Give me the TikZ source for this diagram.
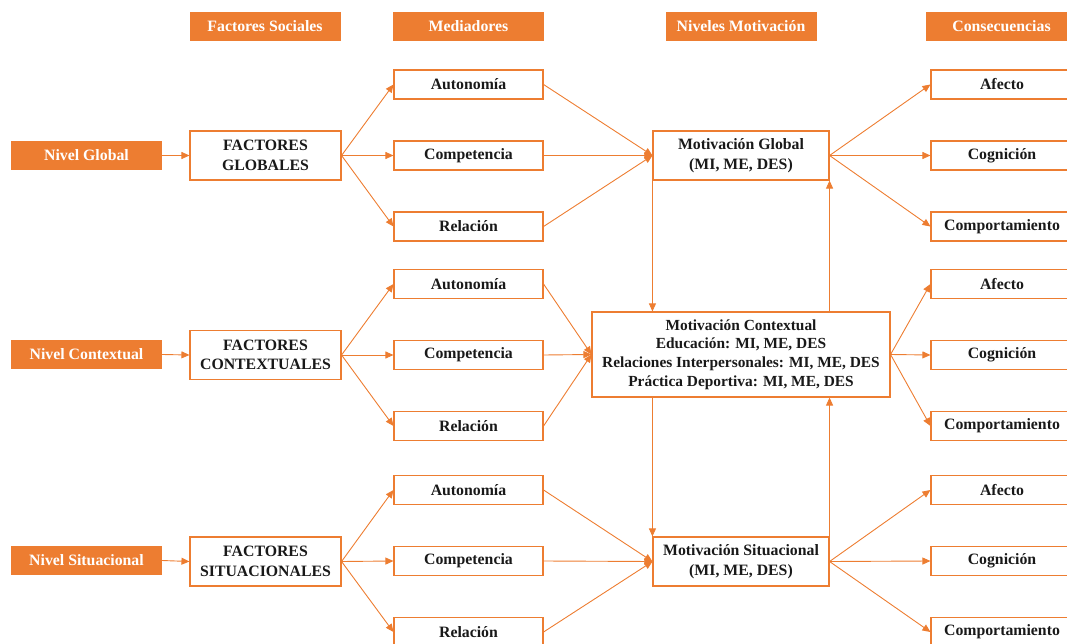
\documentclass[tikz,border=0pt]{standalone}
\usepackage{fontspec}
\setmainfont{Liberation Serif}
\usetikzlibrary{arrows.meta}
\definecolor{naranja}{HTML}{ED7D31}
\begin{document}
\begin{tikzpicture}[x=1pt,y=-1pt,
  txt/.style={font=\bfseries\fontsize{15.8}{19.5}\selectfont},
  head/.style={txt, fill=naranja, text=white, minimum width=151, minimum height=29, inner sep=0},
  box/.style={txt, draw=naranja, line width=1.1pt, fill=white, text=black!90, align=center, inner sep=0},
  small/.style={box, minimum width=149, minimum height=29},
  big/.style={box, minimum width=151, minimum height=49},
  conn/.style={draw=naranja, line width=0.9pt, -{Triangle[length=8pt,width=7pt]}}]
\useasboundingbox (0,0) rectangle (1067,644);
\clip (0,0) rectangle (1067,644);

% column headers
\node[head] (h1) at (265,26.5) {Factores Sociales};
\node[head] (h2) at (468.5,26.5) {Mediadores};
\node[head] (h3) at (741,26.5) {Niveles Motivación};
\node[head] (h4) at (1001.5,26.5) {Consecuencias};

% level labels and social factors
\node[head] (lg) at (86.5,155.5) {Nivel Global};
\node[head] (lc) at (86.5,354.5) {Nivel Contextual};
\node[head] (ls) at (86.5,560.5) {Nivel Situacional};
\node[big] (fg) at (265.5,155.5) {FACTORES\\GLOBALES};
\node[big] (fc) at (265.5,355) {FACTORES\\CONTEXTUALES};
\node[big] (fs) at (265.5,561.5) {FACTORES\\SITUACIONALES};

% motivation levels
\node[box, minimum width=176, minimum height=49] (mg) at (741,155.5) {Motivación Global\\(MI, ME, DES)};
\node[box, minimum width=298, minimum height=85, font=\bfseries\fontsize{15.4}{18.8}\selectfont] (mc) at (741,354.5)
  {Motivación Contextual\\Educación: MI, ME, DES\\Relaciones Interpersonales: MI, ME, DES\\Práctica Deportiva: MI, ME, DES};
\node[box, minimum width=176, minimum height=49] (ms) at (741,561.5) {Motivación Situacional\\(MI, ME, DES)};

% mediators and consequences per level
\foreach \r/\y in {g/155.5,c/355,s/561} {
  \node[small] (a\r) at (468.5,{\y-71}) {Autonomía};
  \node[small] (k\r) at (468.5,\y) {Competencia};
  \node[small] (r\r) at (468.5,{\y+71}) {Relación};
  \node[small, minimum width=142] (e\r) at (1002,{\y-71}) {Afecto};
  \node[small, minimum width=142] (n\r) at (1002,\y) {Cognición};
  \node[small, minimum width=142] (b\r) at (1002,{\y+71}) {Comportamiento};
}

% connectors
\foreach \r in {g,c,s} {
  \draw[conn] (l\r.east) -- (f\r.west);
  \draw[conn] (f\r.east) -- (a\r.west);
  \draw[conn] (f\r.east) -- (k\r.west);
  \draw[conn] (f\r.east) -- (r\r.west);
  \draw[conn] (a\r.east) -- (m\r.west);
  \draw[conn] (k\r.east) -- (m\r.west);
  \draw[conn] (r\r.east) -- (m\r.west);
  \draw[conn] (m\r.east) -- (e\r.west);
  \draw[conn] (m\r.east) -- (n\r.west);
  \draw[conn] (m\r.east) -- (b\r.west);
}

% links between motivation levels
\draw[conn] (mg.south west) -- (mg.south west |- mc.north);
\draw[conn] (mg.south east |- mc.north) -- (mg.south east);
\draw[conn] (ms.north west |- mc.south) -- (ms.north west);
\draw[conn] (ms.north east) -- (ms.north east |- mc.south);
\end{tikzpicture}
\end{document}
